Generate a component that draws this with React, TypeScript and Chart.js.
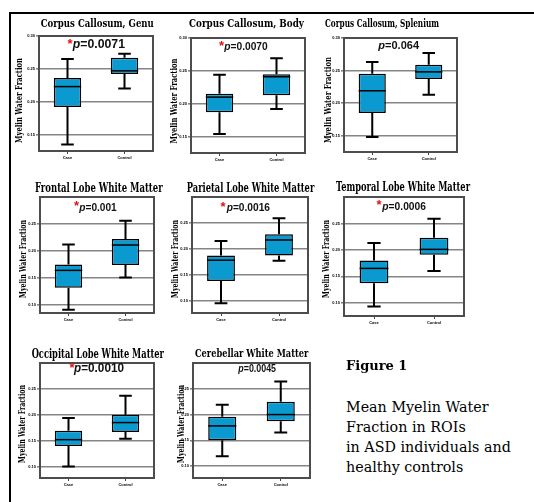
import React, { useEffect, useRef } from "react";
import { Chart, registerables } from "chart.js";

Chart.register(...registerables);

// ---------- data ----------
const GROUPS = ["Case", "Control"];

const REGIONS = [
  "Corpus Callosum, Genu",
  "Corpus Callosum, Body",
  "Corpus Callosum, Splenium",
  "Frontal Lobe White Matter",
  "Parietal Lobe White Matter",
  "Temporal Lobe White Matter",
  "Occipital Lobe White Matter",
  "Cerebellar White Matter",
];

const P_VALUES = ["0.0071", "0.0070", "0.064", "0.001", "0.0016", "0.0006", "0.0010", "0.0045"];
const SIGNIFICANT = [true, true, false, true, true, true, true, false];

// five-number summaries: [min, q1, median, q3, max]
const CASE_BOX = [
  [0.135, 0.192, 0.223, 0.236, 0.265],
  [0.154, 0.187, 0.21, 0.215, 0.244],
  [0.148, 0.185, 0.219, 0.245, 0.263],
  [0.091, 0.132, 0.164, 0.175, 0.212],
  [0.095, 0.138, 0.178, 0.187, 0.215],
  [0.093, 0.137, 0.165, 0.18, 0.213],
  [0.1, 0.14, 0.152, 0.169, 0.194],
  [0.119, 0.15, 0.178, 0.196, 0.219],
];
const CONTROL_BOX = [
  [0.22, 0.242, 0.247, 0.267, 0.273],
  [0.192, 0.213, 0.241, 0.245, 0.269],
  [0.213, 0.237, 0.248, 0.259, 0.277],
  [0.151, 0.174, 0.211, 0.222, 0.256],
  [0.177, 0.187, 0.217, 0.228, 0.259],
  [0.16, 0.191, 0.201, 0.223, 0.259],
  [0.154, 0.167, 0.185, 0.2, 0.237],
  [0.165, 0.187, 0.2, 0.225, 0.264],
];

const Y_MIN = [0.125, 0.125, 0.125, 0.085, 0.076, 0.075, 0.078, 0.077];
const Y_MAX = [0.3, 0.3, 0.3, 0.3, 0.3, 0.3, 0.3, 0.3];
const Y_TICKS_TOP_ROW = [0.15, 0.2, 0.25, 0.3];
const Y_TICKS_LOWER_ROWS = [0.1, 0.15, 0.2, 0.25];

const Y_TITLE = "Myelin Water Fraction";
const FIG_TITLE = "Figure 1";
const CAPTION_LINES = ["Mean Myelin Water", "Fraction in ROIs", "in ASD individuals and", "healthy controls"];

// ---------- layout / style ----------
const Y_AXIS_W = 30;
const PAD_TOP = 22;
const PAD_RIGHT = 10;
const X_AXIS_H = 12;

const BOX_COLOR = "#0a9acf";
const GRID_COLOR = "#858585";
const FRAME_COLOR = "#4d4d4d";
const TITLE_FONT = '"DejaVu Serif"';
const P_FONT = '"Liberation Sans"';

type Lay = {
  L: number; T: number; R: number; B: number;
  tcx: number; tb: number; tw: number; ts: number;
  yx: number; yy: number; yw: number;
  sx: number; px: number; pw: number; pb: number; ps: number;
};

const LAYOUT: Lay[] = [
  { L: 39, T: 36, R: 153, B: 151, tcx: 97.3, tb: 27, tw: 113, ts: 11, yx: 19.5, yy: 100.5, yw: 85, sx: 67.5, px: 72.7, pw: 52.3, pb: 48, ps: 12 },
  { L: 191, T: 38, R: 305, B: 153, tcx: 246.5, tb: 27, tw: 115, ts: 11, yx: 174.5, yy: 101, yw: 85, sx: 219, px: 224.3, pw: 43.4, pb: 50, ps: 11 },
  { L: 344, T: 38, R: 457, B: 152, tcx: 382, tb: 27, tw: 114, ts: 11, yx: 328.5, yy: 100, yw: 86, sx: 0, px: 378.3, pw: 40.7, pb: 49, ps: 11 },
  { L: 40, T: 197, R: 154, B: 313, tcx: 98.8, tb: 191.5, tw: 127.7, ts: 12, yx: 23.3, yy: 259, yw: 78, sx: 74, px: 79.3, pw: 37.4, pb: 210.7, ps: 11 },
  { L: 192, T: 197, R: 308, B: 313, tcx: 250.5, tb: 191.5, tw: 127.6, ts: 12, yx: 176, yy: 259, yw: 78, sx: 220.5, px: 226.7, pw: 43.3, pb: 211, ps: 11 },
  { L: 344, T: 197, R: 464, B: 316, tcx: 403, tb: 191, tw: 134, ts: 12, yx: 326.7, yy: 259, yw: 78, sx: 376.5, px: 382.3, pw: 43.7, pb: 209.7, ps: 11 },
  { L: 40, T: 363, R: 154, B: 478, tcx: 97.8, tb: 357.5, tw: 132.3, ts: 12, yx: 22.5, yy: 424, yw: 78, sx: 69.5, px: 74, pw: 50, pb: 372, ps: 12 },
  { L: 193, T: 363, R: 310, B: 478, tcx: 251.7, tb: 356.5, tw: 113.3, ts: 11, yx: 181.5, yy: 424, yw: 78, sx: 0, px: 238.3, pw: 37.7, pb: 372.3, ps: 11 },
];

function fitText(ctx: CanvasRenderingContext2D, text: string, x: number, y: number, w: number, font: string, color: string, center: boolean) {
  ctx.save();
  ctx.font = font;
  ctx.fillStyle = color;
  ctx.textAlign = "left";
  ctx.textBaseline = "alphabetic";
  const m = ctx.measureText(text).width;
  const s = w / m;
  ctx.translate(center ? x - w / 2 : x, y);
  ctx.scale(s, 1);
  ctx.fillText(text, 0, 0);
  ctx.restore();
}

function BoxChart({ idx }: { idx: number }) {
  const ref = useRef<HTMLCanvasElement>(null);
  const lay = LAYOUT[idx];
  const cl = lay.L - Y_AXIS_W;
  const ct = lay.T - PAD_TOP;
  const cw = lay.R - lay.L + Y_AXIS_W + PAD_RIGHT;
  const ch = lay.B - lay.T + PAD_TOP + X_AXIS_H;

  useEffect(() => {
    const stats = [CASE_BOX[idx], CONTROL_BOX[idx]];
    const ticks = idx < 3 ? Y_TICKS_TOP_ROW : Y_TICKS_LOWER_ROWS;

    const plugin = {
      id: "boxplotExtras",
      beforeDatasetsDraw(chart: any) {
        const { ctx, chartArea: a } = chart;
        ctx.save();
        ctx.strokeStyle = FRAME_COLOR;
        ctx.lineWidth = 2;
        ctx.strokeRect(a.left, a.top, a.right - a.left, a.bottom - a.top);
        ctx.restore();
      },
      afterDatasetsDraw(chart: any) {
        const { ctx } = chart;
        const y = chart.scales.y;
        const meta = chart.getDatasetMeta(0);
        meta.data.forEach((el: any, i: number) => {
          const s = stats[i];
          const x = el.x;
          const w = el.width;
          const cap = w * 0.46;
          const pMin = y.getPixelForValue(s[0]);
          const pQ1 = y.getPixelForValue(s[1]);
          const pMed = y.getPixelForValue(s[2]);
          const pQ3 = y.getPixelForValue(s[3]);
          const pMax = y.getPixelForValue(s[4]);
          ctx.save();
          ctx.strokeStyle = "#000";
          ctx.lineWidth = 2;
          ctx.beginPath();
          ctx.moveTo(x, pQ3);
          ctx.lineTo(x, pMax);
          ctx.moveTo(x - cap / 2, pMax);
          ctx.lineTo(x + cap / 2, pMax);
          ctx.moveTo(x, pQ1);
          ctx.lineTo(x, pMin);
          ctx.moveTo(x - cap / 2, pMin);
          ctx.lineTo(x + cap / 2, pMin);
          ctx.stroke();
          ctx.lineWidth = 1.5;
          ctx.beginPath();
          ctx.moveTo(x - w / 2, pMed);
          ctx.lineTo(x + w / 2, pMed);
          ctx.stroke();
          ctx.restore();
        });
      },
      afterDraw(chart: any) {
        const ctx: CanvasRenderingContext2D = chart.ctx;
        fitText(ctx, REGIONS[idx], lay.tcx - cl, lay.tb - ct, lay.tw, `bold ${lay.ts}px ${TITLE_FONT}`, "#000", true);
        ctx.save();
        ctx.font = `bold 9px ${TITLE_FONT}`;
        ctx.fillStyle = "#000";
        ctx.textAlign = "center";
        ctx.textBaseline = "middle";
        const m = ctx.measureText(Y_TITLE).width;
        ctx.translate(lay.yx - cl, lay.yy - ct);
        ctx.rotate(-Math.PI / 2);
        ctx.scale(lay.yw / m, 1);
        ctx.fillText(Y_TITLE, 0, 0);
        ctx.restore();
        ctx.save();
        const fi = `italic bold ${lay.ps}px ${P_FONT}`;
        const fb = `bold ${lay.ps}px ${P_FONT}`;
        ctx.font = fi;
        const w1 = ctx.measureText("p").width;
        ctx.font = fb;
        const rest = "=" + P_VALUES[idx];
        const w2 = ctx.measureText(rest).width;
        const sc = lay.pw / (w1 + w2);
        ctx.fillStyle = "#111";
        ctx.textBaseline = "alphabetic";
        ctx.textAlign = "left";
        ctx.translate(lay.px - cl, lay.pb - ct);
        ctx.scale(sc, 1);
        ctx.font = fi;
        ctx.fillText("p", 0, 0);
        ctx.font = fb;
        ctx.fillText(rest, w1, 0);
        ctx.restore();
        if (SIGNIFICANT[idx]) {
          ctx.save();
          ctx.font = `bold 13px ${P_FONT}`;
          ctx.fillStyle = "#e01010";
          ctx.textAlign = "left";
          ctx.textBaseline = "alphabetic";
          ctx.fillText("*", lay.sx - cl, lay.pb - ct - 0.5);
          ctx.restore();
        }
      },
    };

    const chart = new Chart(ref.current as HTMLCanvasElement, {
      type: "bar",
      data: {
        labels: GROUPS,
        datasets: [
          {
            data: [
              [stats[0][1], stats[0][3]],
              [stats[1][1], stats[1][3]],
            ] as any,
            backgroundColor: BOX_COLOR,
            borderColor: "#000",
            borderWidth: 1.5,
            borderSkipped: false,
            barPercentage: 0.48,
            categoryPercentage: 1,
          },
        ],
      },
      options: {
        animation: false,
        responsive: false,
        maintainAspectRatio: false,
        devicePixelRatio: 1,
        events: [],
        layout: { padding: { top: PAD_TOP, left: 0, right: PAD_RIGHT, bottom: 0 } },
        plugins: {
          legend: { display: false },
          tooltip: { enabled: false },
          title: { display: false },
        },
        scales: {
          x: {
            offset: true,
            grid: { display: true, drawOnChartArea: false, offset: false, tickLength: 3, color: "#444", lineWidth: 1 },
            border: { display: false },
            ticks: { font: { size: 4, weight: "bold", family: P_FONT }, color: "#000", padding: 1, maxRotation: 0, autoSkip: false },
            afterFit: (s: any) => {
              s.height = X_AXIS_H;
            },
          },
          y: {
            min: Y_MIN[idx],
            max: Y_MAX[idx],
            afterBuildTicks: (s: any) => {
              s.ticks = ticks.map((v) => ({ value: v }));
            },
            grid: { color: GRID_COLOR, lineWidth: 1.6, tickLength: 3, drawTicks: true },
            border: { display: false },
            ticks: {
              font: { size: 4, weight: "bold", family: P_FONT },
              color: "#000",
              padding: 1,
              callback: (v: any) => Number(v).toFixed(2),
            },
            afterFit: (s: any) => {
              s.width = Y_AXIS_W;
            },
          },
        },
      } as any,
      plugins: [plugin],
    });
    return () => chart.destroy();
  }, [idx]);

  return (
    <canvas
      ref={ref}
      width={cw}
      height={ch}
      style={{ position: "absolute", left: cl, top: ct, width: cw, height: ch }}
    />
  );
}

export default function App() {
  return (
    <div style={{ position: "absolute", left: 0, top: 0, width: 534, height: 502, background: "#fff", overflow: "hidden" }}>
      <div style={{ position: "absolute", left: 9, top: 12, width: 525, height: 2, background: "#000" }} />
      <div style={{ position: "absolute", left: 9, top: 12, width: 2, height: 490, background: "#000" }} />
      {REGIONS.map((_, i) => (
        <BoxChart key={i} idx={i} />
      ))}
      <div
        style={{
          position: "absolute",
          left: 346,
          top: 355.5,
          fontFamily: '"DejaVu Serif"',
          fontWeight: "bold",
          fontSize: 13,
          lineHeight: "20px",
          whiteSpace: "nowrap",
          color: "#000",
        }}
      >
        {FIG_TITLE}
      </div>
      <div
        style={{
          position: "absolute",
          left: 346,
          top: 396.5,
          fontFamily: '"DejaVu Serif"',
          fontSize: 14.3,
          lineHeight: "20px",
          whiteSpace: "nowrap",
          color: "#000",
        }}
      >
        {CAPTION_LINES.map((l, i) => (
          <div key={i}>{l}</div>
        ))}
      </div>
    </div>
  );
}
